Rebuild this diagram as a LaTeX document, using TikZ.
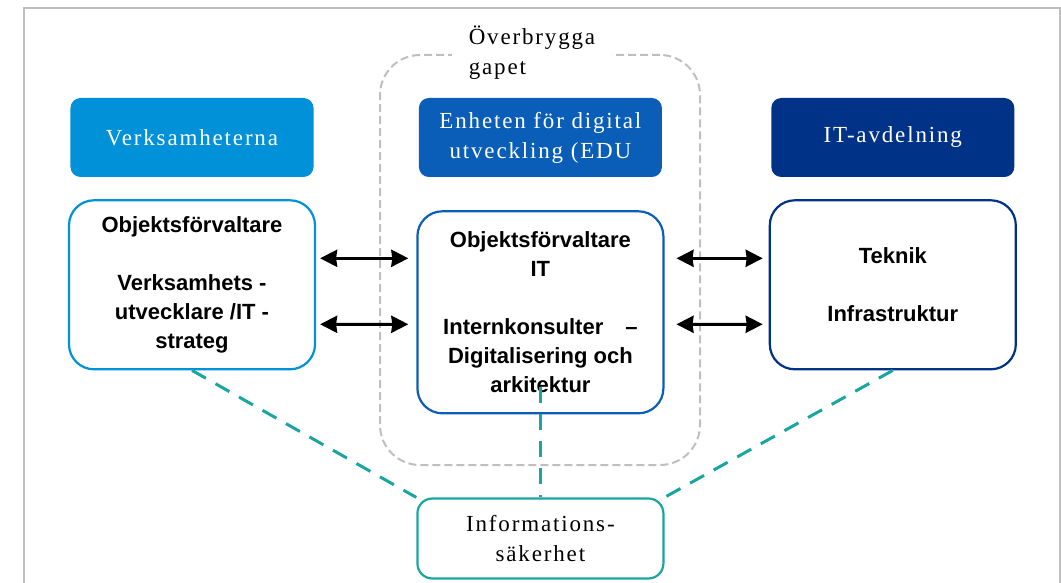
\documentclass[tikz,border=0pt]{standalone}
\usepackage{fontspec}
\setmainfont{Liberation Serif}
\setsansfont{Liberation Sans}
\newfontfamily\spacedserif[LetterSpace=8]{Liberation Serif}
\usetikzlibrary{positioning,arrows.meta}
\definecolor{verkblue}{RGB}{0,145,217}
\definecolor{edublue}{RGB}{10,94,183}
\definecolor{itnavy}{RGB}{0,51,136}
\definecolor{infoteal}{RGB}{26,166,160}
\definecolor{framegray}{RGB}{191,191,191}

\begin{document}
\begin{tikzpicture}[x=1bp, y=-1bp,
header/.style={rounded corners=10bp, minimum width=243bp, minimum height=79bp, text=white, align=center, font=\fontsize{23bp}{30bp}\selectfont\spacedserif},
unit/.style={draw, line width=2.2bp, fill=white, rounded corners=25bp, minimum width=246bp, align=center, font=\fontsize{22bp}{29bp}\selectfont\sffamily\bfseries},
gapbox/.style={draw=framegray, line width=2bp, dash pattern=on 8bp off 4bp, rounded corners=40bp, minimum width=320bp, minimum height=410bp},
twoway/.style={{Stealth[length=17bp,width=17bp,inset=1bp]}-{Stealth[length=17bp,width=17bp,inset=1bp]}, line width=3bp},
link/.style={infoteal, line width=3bp, dash pattern=on 16bp off 11bp}
]
\useasboundingbox (0,0) rectangle (1061,583);
\draw[framegray, line width=2.5bp] (24,583) -- (24,8) -- (1060,8) -- (1060,583);
%Nodes
\node[gapbox]                      (gap)   at (540,260)             {};
\node[fill=white, minimum width=160bp, align=left, font=\fontsize{23bp}{30bp}\selectfont\spacedserif]
                                   (lbl)   at (532,53)              {Överbrygga\\gapet};
\node[header, fill=verkblue]       (verk)  at (192,137.5)           {Verksamheterna};
\node[header, fill=edublue]        (edu)   [right=105bp of verk]    {Enheten för digital\\utveckling (EDU};
\node[header, fill=itnavy]         (itav)  [right=109bp of edu]     {IT-avdelning};
\node[unit, draw=verkblue, minimum height=169bp] (vbox) [below=22bp of verk]
  {Objektsförvaltare\\[29bp]Verksamhets -\\utvecklare /IT -\\strateg};
\node[unit, draw=edublue, minimum height=202bp]  (mbox) [below=33bp of edu]
  {Objektsförvaltare\\IT\\[29bp]Internkonsulter\quad –\\Digitalisering och\\arkitektur};
\node[unit, draw=itnavy, minimum height=169bp]   (ibox) [below=22bp of itav]
  {Teknik\\[29bp]Infrastruktur};
\node[unit, draw=infoteal, rounded corners=15bp, minimum height=80bp, font=\fontsize{23bp}{30bp}\selectfont\spacedserif]
                                   (info)  [below=83bp of mbox]     {Informations-\\säkerhet};
%Lines
\draw[twoway, shorten <=4bp, shorten >=8bp] ([yshift=26.5bp]vbox.east) -- ([yshift=54bp]mbox.west);
\draw[twoway, shorten <=4bp, shorten >=8bp] ([yshift=-39.5bp]vbox.east) -- ([yshift=-12bp]mbox.west);
\draw[twoway, shorten <=12bp, shorten >=6bp] ([yshift=54bp]mbox.east) -- ([yshift=26.5bp]ibox.west);
\draw[twoway, shorten <=12bp, shorten >=6bp] ([yshift=-12bp]mbox.east) -- ([yshift=-39.5bp]ibox.west);
\draw[link] (vbox.south) -- (info.north west);
\draw[link] ([yshift=27bp]mbox.south) -- (info.north);
\draw[link] (ibox.south) -- (info.north east);
\end{tikzpicture}
\end{document}
